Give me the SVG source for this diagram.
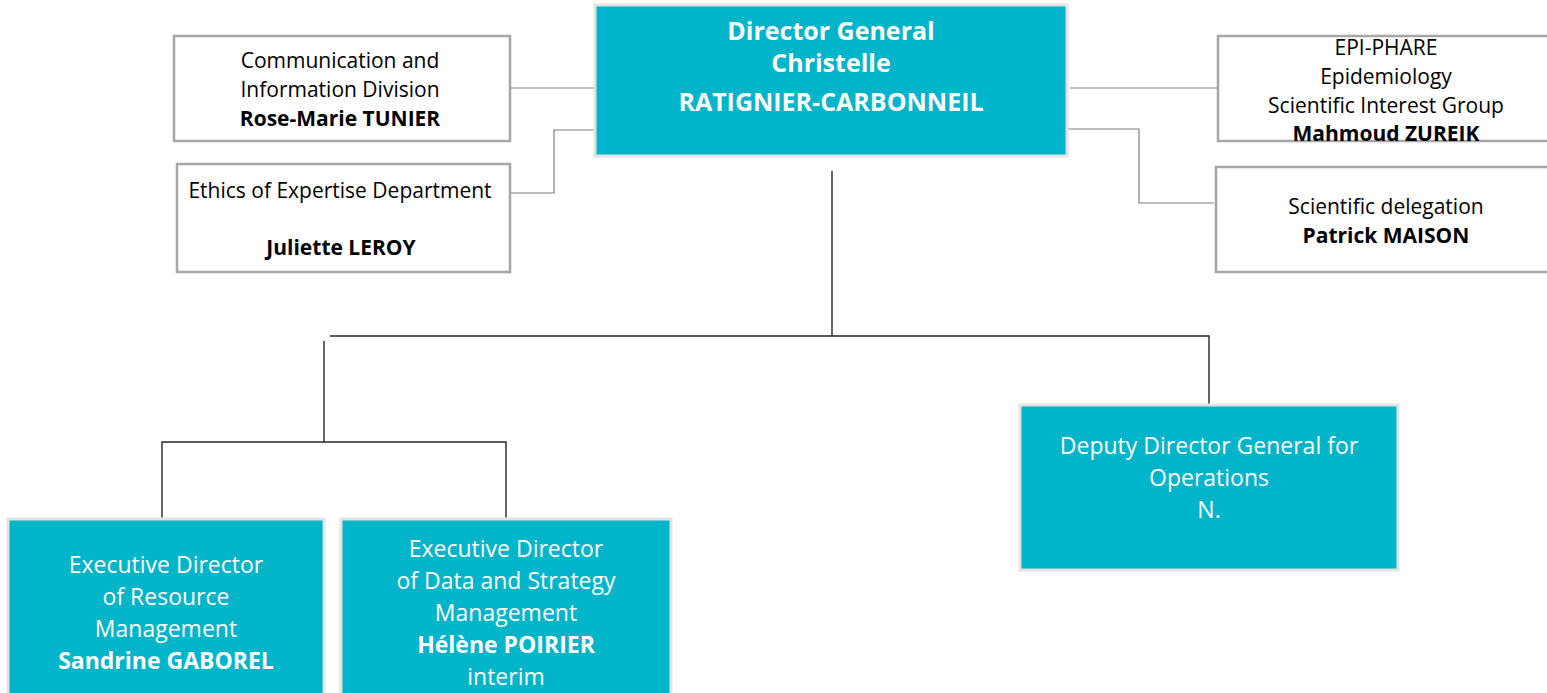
<svg xmlns="http://www.w3.org/2000/svg" width="1547" height="693" viewBox="0 0 1547 693">
<style>
.wb{fill:#ffffff;stroke:#a6a6a6;stroke-width:2.5}
.tb{fill:#00b5ca;stroke:#e3e3e3;stroke-width:3}
.t{font-family:"Open Sans","Noto Sans",sans-serif;text-anchor:middle}
.dk{fill:#000000;font-size:21px}
.wt{fill:#ffffff;font-size:23px}
.big{font-size:25px}
.b{font-weight:bold}
.gl{fill:none;stroke:#7f7f7f;stroke-width:1.2}
.kl{fill:none;stroke:#262626;stroke-width:1.4}
</style>
<rect width="1547" height="693" fill="#ffffff"/>
<g id="connectors">
<path class="gl" d="M510 88H595"/>
<path class="gl" d="M510 193H554V130H595"/>
<path class="gl" d="M1070 88H1218"/>
<path class="gl" d="M1067 129H1139V203H1214"/>
<path class="kl" d="M832 171V336"/>
<path class="kl" d="M330 336H1209V405"/>
<path class="kl" d="M324 341V442"/>
<path class="kl" d="M162 519V442H506V519"/>
</g>
<g id="dg">
<rect class="tb" x="595" y="5" width="472" height="151"/>
<text class="t wt b big" x="831" y="40">Director General</text>
<text class="t wt b big" x="831" y="72">Christelle</text>
<text class="t wt b big" x="831" y="111">RATIGNIER-CARBONNEIL</text>
</g>
<g id="comm">
<rect class="wb" x="174" y="36" width="336" height="105"/>
<text class="t dk" x="340" y="68">Communication and</text>
<text class="t dk" x="340" y="97">Information Division</text>
<text class="t dk b" x="340" y="126">Rose-Marie TUNIER</text>
</g>
<g id="ethics">
<rect class="wb" x="177" y="164" width="333" height="108"/>
<text class="t dk" x="340" y="198">Ethics of Expertise Department</text>
<text class="t dk b" x="341" y="255">Juliette LEROY</text>
</g>
<g id="epi">
<rect class="wb" x="1218" y="36" width="335" height="105"/>
<text class="t dk" x="1386" y="55">EPI-PHARE</text>
<text class="t dk" x="1386" y="84">Epidemiology</text>
<text class="t dk" x="1386" y="113">Scientific Interest Group</text>
<text class="t dk b" x="1386" y="141">Mahmoud ZUREIK</text>
</g>
<g id="sci">
<rect class="wb" x="1216" y="167" width="337" height="105"/>
<text class="t dk" x="1386" y="214">Scientific delegation</text>
<text class="t dk b" x="1386" y="243">Patrick MAISON</text>
</g>
<g id="deputy">
<rect class="tb" x="1020" y="405" width="378" height="165"/>
<text class="t wt" x="1209" y="454">Deputy Director General for</text>
<text class="t wt" x="1209" y="486">Operations</text>
<text class="t wt" x="1209" y="518">N.</text>
</g>
<g id="resource">
<rect class="tb" x="8" y="519" width="316" height="180"/>
<text class="t wt" x="166" y="573">Executive Director</text>
<text class="t wt" x="166" y="605">of Resource</text>
<text class="t wt" x="166" y="637">Management</text>
<text class="t wt b" x="166" y="669">Sandrine GABOREL</text>
</g>
<g id="data">
<rect class="tb" x="341" y="519" width="330" height="180"/>
<text class="t wt" x="506" y="557">Executive Director</text>
<text class="t wt" x="506" y="589">of Data and Strategy</text>
<text class="t wt" x="506" y="621">Management</text>
<text class="t wt b" x="506" y="653">Hélène POIRIER</text>
<text class="t wt" x="506" y="685">interim</text>
</g>
</svg>
